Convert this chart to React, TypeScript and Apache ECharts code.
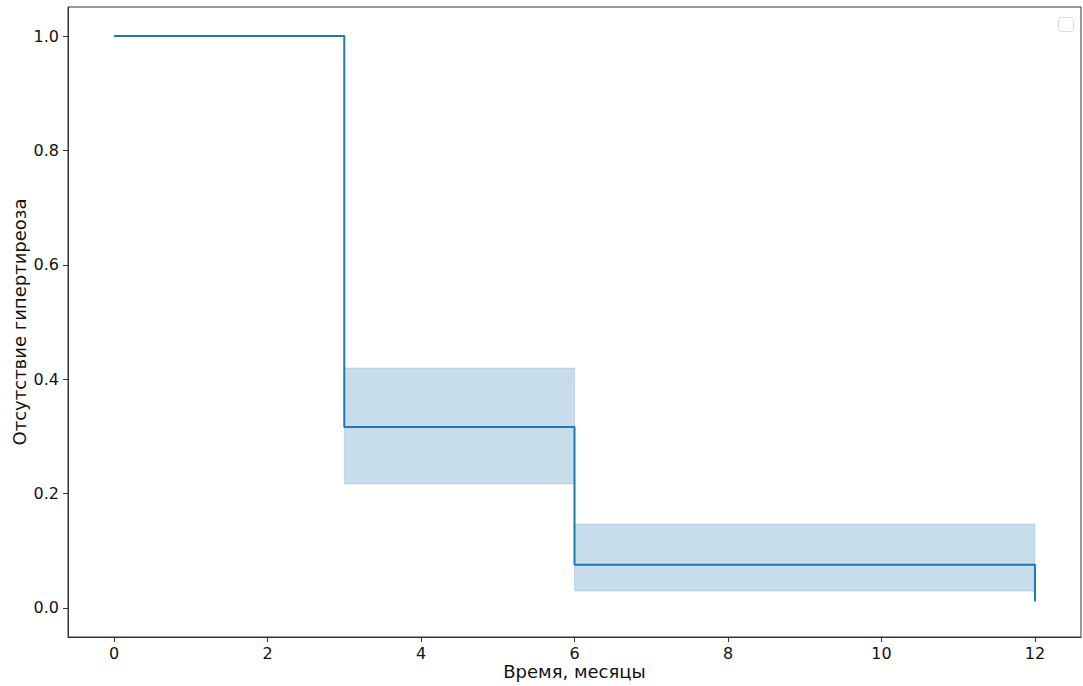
import React, { useEffect, useRef } from "react";
import * as echarts from "echarts";

// Kaplan–Meier estimate: time points (months) and survival values
const times = [0, 3, 6, 12];
const survival = [1.0, 0.3164, 0.0755, 0.0113];

// Confidence interval bands, each spans [start, end) in months
const bandStarts = [3, 6];
const bandEnds = [6, 12];
const bandLower = [0.2168, 0.0297];
const bandUpper = [0.4196, 0.1469];

const xTicks = [0, 2, 4, 6, 8, 10, 12];
const yTicks = [0.0, 0.2, 0.4, 0.6, 0.8, 1.0];

const xTitle = "Время, месяцы";
const yTitle = "Отсутствие гипертиреоза";

const FONT = "DejaVu Sans";
const BLUE = "#1f77b4";
const TEXT = "#111";
const SPINE = "#333";

export default function App() {
  const ref = useRef<HTMLDivElement>(null);

  useEffect(() => {
    document.body.style.margin = "0";
    const chart = echarts.init(ref.current!, null, { renderer: "svg" });

    const bandData = bandStarts.map((s, i) => [s, bandEnds[i], bandLower[i], bandUpper[i]]);
    const lineData = times.map((t, i) => [t, survival[i]]);

    chart.setOption({
      animation: false,
      backgroundColor: "#fff",
      textStyle: { fontFamily: FONT },
      grid: {
        left: 68,
        top: 7,
        right: 2,
        bottom: 49,
        containLabel: false,
        outerBoundsMode: "none",
        show: true,
        borderColor: SPINE,
        borderWidth: 1,
        backgroundColor: "transparent",
      },
      xAxis: {
        type: "value",
        min: -0.6,
        max: 12.6,
        name: xTitle,
        nameLocation: "middle",
        nameGap: 25,
        nameMoveOverlap: false,
        nameTextStyle: { fontSize: 18, color: TEXT, fontFamily: FONT },
        axisLine: { show: true, onZero: false, lineStyle: { color: SPINE, width: 1 } },
        splitLine: { show: false },
        axisTick: {
          show: true,
          inside: false,
          length: 5,
          lineStyle: { color: SPINE, width: 1 },
          customValues: xTicks,
        },
        axisLabel: {
          fontSize: 16,
          color: TEXT,
          margin: 8,
          fontFamily: FONT,
          customValues: xTicks,
          formatter: (v: number) => String(v),
        },
      },
      yAxis: {
        type: "value",
        min: -0.0507,
        max: 1.0507,
        name: yTitle,
        nameLocation: "middle",
        nameGap: 40,
        nameMoveOverlap: false,
        nameTextStyle: { fontSize: 18, color: TEXT, fontFamily: FONT },
        axisLine: { show: true, onZero: false, lineStyle: { color: SPINE, width: 1 } },
        splitLine: { show: false },
        axisTick: {
          show: true,
          inside: false,
          length: 5,
          lineStyle: { color: SPINE, width: 1 },
          customValues: yTicks,
        },
        axisLabel: {
          fontSize: 16,
          color: TEXT,
          margin: 9,
          fontFamily: FONT,
          customValues: yTicks,
          formatter: (v: number) => v.toFixed(1),
        },
      },
      series: [
        {
          type: "custom",
          silent: true,
          data: bandData,
          encode: { x: [0, 1], y: [2, 3] },
          renderItem: (params: any, api: any) => {
            const p0 = api.coord([api.value(0), api.value(3)]);
            const p1 = api.coord([api.value(1), api.value(2)]);
            return {
              type: "rect",
              shape: { x: p0[0], y: p0[1], width: p1[0] - p0[0], height: p1[1] - p0[1] },
              style: {
                fill: "rgba(31,119,180,0.25)",
                stroke: "rgba(31,119,180,0.18)",
                lineWidth: 1,
              },
            };
          },
          z: 1,
        },
        {
          type: "line",
          step: "end",
          data: lineData,
          showSymbol: false,
          symbol: "none",
          lineStyle: { color: BLUE, width: 2 },
          z: 2,
        },
      ],
      graphic: [
        {
          type: "rect",
          left: 1058,
          top: 17,
          shape: { width: 15, height: 14, r: 3 },
          style: { fill: "#fff", stroke: "#dcdcdc", lineWidth: 1 },
        },
      ],
    });

    return () => chart.dispose();
  }, []);

  return <div ref={ref} style={{ width: 1083, height: 686 }} />;
}
